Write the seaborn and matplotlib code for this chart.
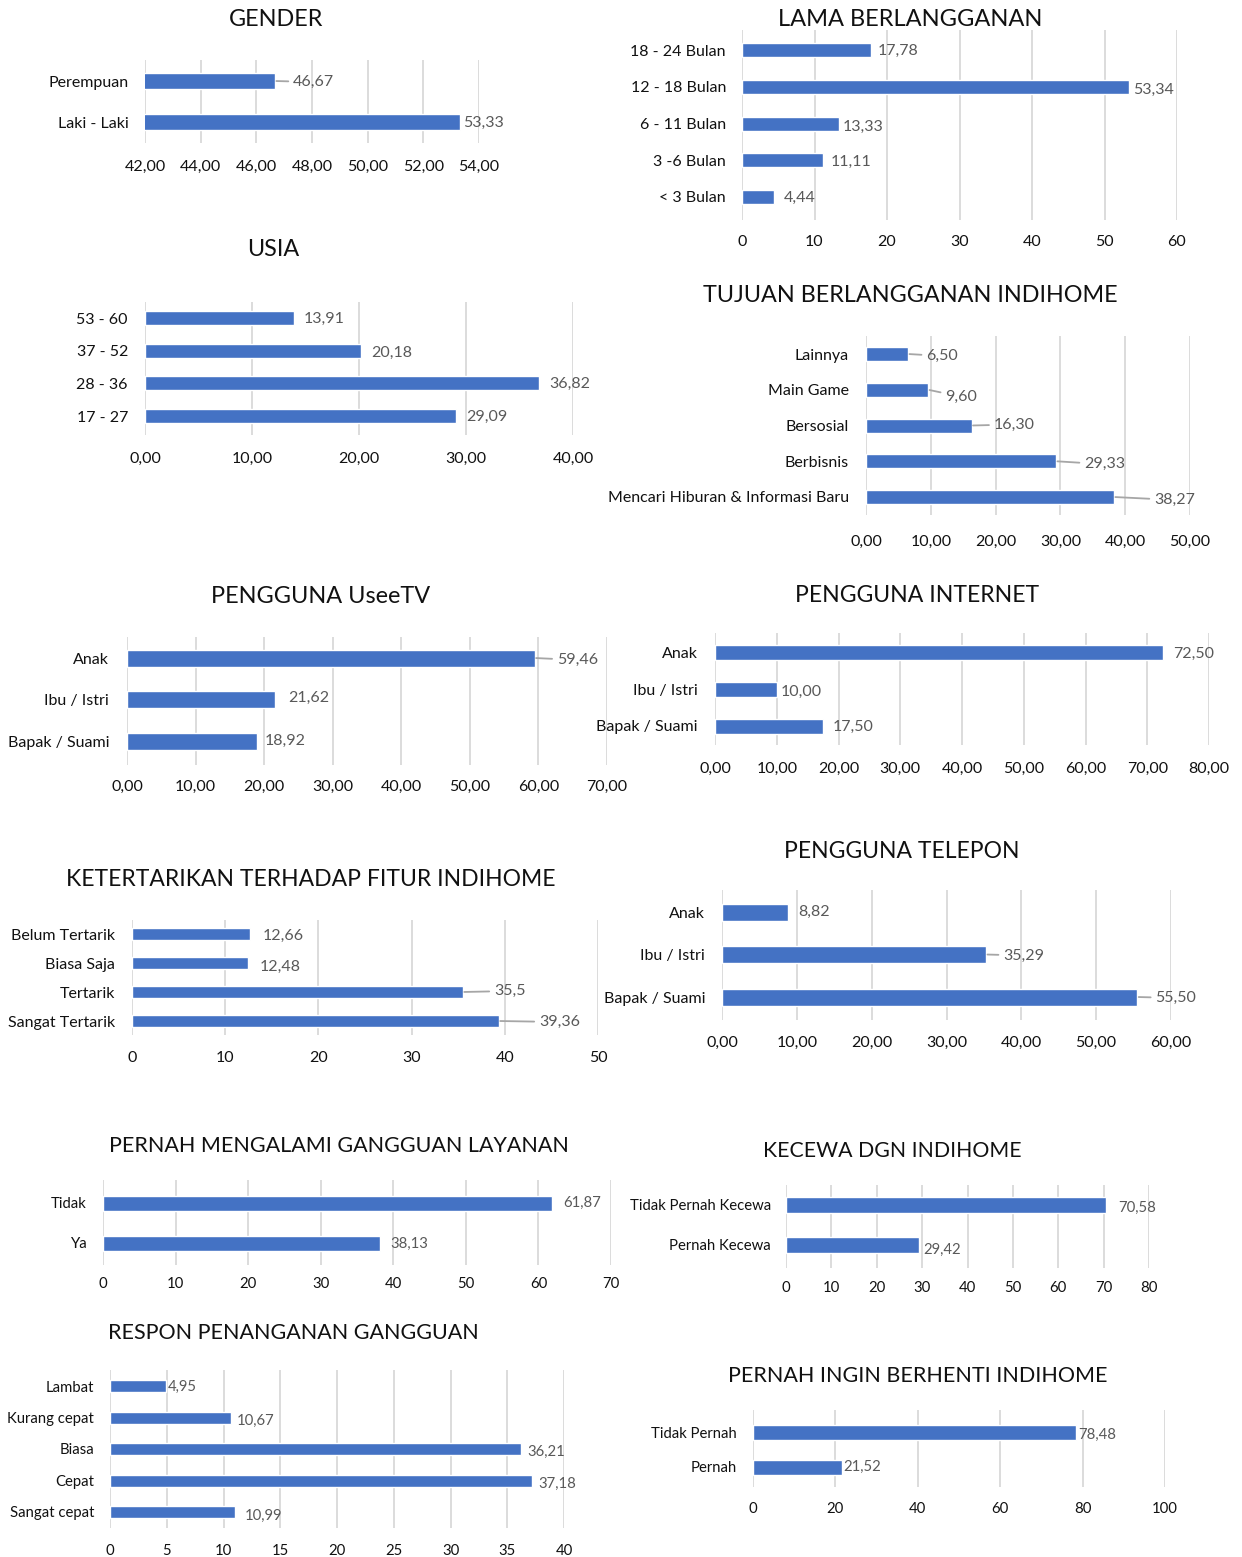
import matplotlib
matplotlib.use('Agg')
import matplotlib.pyplot as plt
import seaborn as sns
import pandas as pd

W, H = 1242, 1557
DPI = 100
sns.set_theme(style='white')
plt.rcParams['font.family'] = ['Lato', 'DejaVu Sans']

BAR = '#4472C4'
GRID = '#D9D9D9'
LBL = '#595959'
LEAD = '#A6A6A6'
TXT = '#111111'

# ---------------- data ----------------
gender_cat = ['Perempuan', 'Laki - Laki']
gender_val = [46.67, 53.33]
gender_ticks = [42, 44, 46, 48, 50, 52, 54]

lama_cat = ['18 - 24 Bulan', '12 - 18 Bulan', '6 - 11 Bulan', '3 -6 Bulan', '< 3 Bulan']
lama_val = [17.78, 53.34, 13.33, 11.11, 4.44]
lama_ticks = [0, 10, 20, 30, 40, 50, 60]

usia_cat = ['53 - 60', '37 - 52', '28 - 36', '17 - 27']
usia_val = [13.91, 20.18, 36.82, 29.09]
usia_ticks = [0, 10, 20, 30, 40]

tujuan_cat = ['Lainnya', 'Main Game', 'Bersosial', 'Berbisnis',
              'Mencari Hiburan & Informasi Baru']
tujuan_val = [6.50, 9.60, 16.30, 29.33, 38.27]
tujuan_ticks = [0, 10, 20, 30, 40, 50]

usee_cat = ['Anak', 'Ibu / Istri', 'Bapak / Suami']
usee_val = [59.46, 21.62, 18.92]
usee_ticks = [0, 10, 20, 30, 40, 50, 60, 70]

inet_cat = ['Anak', 'Ibu / Istri', 'Bapak / Suami']
inet_val = [72.50, 10.00, 17.50]
inet_ticks = [0, 10, 20, 30, 40, 50, 60, 70, 80]

fitur_cat = ['Belum Tertarik', 'Biasa Saja', 'Tertarik', 'Sangat Tertarik']
fitur_val = [12.66, 12.48, 35.5, 39.36]
fitur_lbl = ['12,66', '12,48', '35,5', '39,36']
fitur_ticks = [0, 10, 20, 30, 40, 50]

telp_cat = ['Anak', 'Ibu / Istri', 'Bapak / Suami']
telp_val = [8.82, 35.29, 55.50]
telp_ticks = [0, 10, 20, 30, 40, 50, 60]

ganggu_cat = ['Tidak', 'Ya']
ganggu_val = [61.87, 38.13]
ganggu_ticks = [0, 10, 20, 30, 40, 50, 60, 70]

kecewa_cat = ['Tidak Pernah Kecewa', 'Pernah Kecewa']
kecewa_val = [70.58, 29.42]
kecewa_ticks = [0, 10, 20, 30, 40, 50, 60, 70, 80]

respon_cat = ['Lambat', 'Kurang cepat', 'Biasa', 'Cepat', 'Sangat cepat']
respon_val = [4.95, 10.67, 36.21, 37.18, 10.99]
respon_ticks = [0, 5, 10, 15, 20, 25, 30, 35, 40]

berhenti_cat = ['Tidak Pernah', 'Pernah']
berhenti_val = [78.48, 21.52]
berhenti_ticks = [0, 20, 40, 60, 80, 100]

# ---------------- drawing ----------------
fig = plt.figure(figsize=(W / DPI, H / DPI), dpi=DPI)
fig.patch.set_facecolor('white')

PT = 0.72  # px -> pt at 100 dpi
TICK_FS = 11.5
CAT_FS = 11.5
VAL_FS = 11.5


def fmt(v, dec):
    return f"{v:.{dec}f}".replace('.', ',')


def panel(title, tx, ty, tfs, cats, vals, ticks, tick_dec,
          x0, x1, yt, yb, yc_first, yc_last, bar_px, ylab_right, xlab_y,
          offsets, labels=None, tscale=1.0):
    ax = fig.add_axes([x0 / W, 1 - yb / H, (x1 - x0) / W, (yb - yt) / H])
    n = len(cats)
    s = (yc_last - yc_first) / (n - 1)
    df = pd.DataFrame({'cat': cats, 'val': vals})
    sns.barplot(data=df, x='val', y='cat', orient='h', color=BAR,
                saturation=1, width=bar_px / s, ax=ax, zorder=3)
    ax.set_xlim(ticks[0], ticks[-1])
    ax.set_ylim(n - 1 + (yb - yc_last) / s, -(yc_first - yt) / s)
    ax.set_xticks(ticks)
    ax.set_xticklabels([fmt(t, tick_dec) for t in ticks])
    ax.grid(axis='x', color=GRID, lw=1.3, zorder=0)
    ax.grid(axis='y', visible=False)
    for sp in ax.spines.values():
        sp.set_visible(False)
    ax.set_xlabel('')
    ax.set_ylabel('')
    ax.tick_params(axis='x', length=0, labelsize=TICK_FS * tscale, colors=TXT,
                   pad=(xlab_y - yb - 6) * PT)
    ax.tick_params(axis='y', length=0, labelsize=CAT_FS * tscale, colors=TXT,
                   pad=(x0 - ylab_right) * PT)
    for lab in ax.get_xticklabels():
        lab.set_clip_on(False)
    for i, v in enumerate(vals):
        dx, dy, lead = offsets[i]
        txt = labels[i] if labels is not None else fmt(v, 2)
        kw = {}
        if lead:
            kw['arrowprops'] = dict(arrowstyle='-', color=LEAD, lw=1.3,
                                    shrinkA=1, shrinkB=1)
        ax.annotate(txt, xy=(v, i), xytext=(dx * PT, -(dy + 1) * PT),
                    textcoords='offset points', ha='left', va='center',
                    color=LBL, fontsize=VAL_FS * tscale,
                    annotation_clip=False, **kw)
    fig.text(tx / W, 1 - ty / H, title, ha='center', va='center',
             fontsize=tfs, color=TXT)
    return ax


panel('GENDER', 276, 20, 16.8, gender_cat, gender_val, gender_ticks, 2,
      145, 479, 60, 143, 81, 122, 16, 129, 166,
      [(18, 0, True), (3, 0, False)])

panel('LAMA BERLANGGANAN', 910, 20, 17.0, lama_cat, lama_val, lama_ticks, 0,
      742, 1177, 30, 220, 50, 197, 14, 726, 241,
      [(7, 0, False), (4, 2, False), (4, 2, False), (8, 1, False), (10, 0, False)])

panel('USIA', 273, 250, 16.8, usia_cat, usia_val, usia_ticks, 2,
      145, 573, 302, 435, 318, 416, 14, 128, 458,
      [(10, 0, False), (10, 1, False), (10, 0, False), (10, 0, False)])

panel('TUJUAN BERLANGGANAN INDIHOME', 910, 295, 16.8, tujuan_cat, tujuan_val,
      tujuan_ticks, 2,
      866, 1190, 336, 515, 354, 497, 14, 849, 541,
      [(18, 1, True), (17, 6, True), (22, -2, True), (28, 2, True), (40, 2, True)])

panel('PENGGUNA UseeTV', 321, 597, 16.9, usee_cat, usee_val, usee_ticks, 2,
      127, 607, 637, 765, 658, 741, 17, 109, 786,
      [(22, 1, True), (13, -3, False), (8, -1, False)])

panel('PENGGUNA INTERNET', 917, 595, 16.6, inet_cat, inet_val, inet_ticks, 2,
      715, 1209, 633, 745, 652, 726, 15, 698, 768,
      [(10, 1, False), (4, 2, False), (10, 0, False)])

panel('KETERTARIKAN TERHADAP FITUR INDIHOME', 311, 880, 16.5, fitur_cat,
      fitur_val, fitur_ticks, 0,
      132, 598, 920, 1035, 934, 1021, 12, 115, 1057,
      [(13, 1, False), (11, 3, False), (31, -2, True), (40, 0, True)],
      labels=fitur_lbl)

panel('PENGGUNA TELEPON', 902, 851, 16.5, telp_cat, telp_val, telp_ticks, 2,
      722, 1171, 890, 1020, 912, 997, 17, 705, 1042,
      [(10, -1, False), (17, 0, True), (18, 0, True)])

panel('PERNAH MENGALAMI GANGGUAN LAYANAN', 339, 1146, 15.5, ganggu_cat,
      ganggu_val, ganggu_ticks, 0,
      103, 611, 1180, 1265, 1203, 1243, 15, 87, 1283,
      [(11, -1, False), (11, 0, False)], tscale=0.93)

panel('KECEWA DGN INDIHOME', 892, 1151, 15.3, kecewa_cat, kecewa_val,
      kecewa_ticks, 0,
      786, 1149, 1185, 1268, 1205, 1245, 16, 771, 1287,
      [(12, 2, False), (4, 4, False)], tscale=0.93)

panel('RESPON PENANGANAN GANGGUAN', 293, 1333, 15.5, respon_cat, respon_val,
      respon_ticks, 0,
      110, 564, 1370, 1528, 1386, 1512, 12, 94, 1550,
      [(2, 0, False), (6, 2, False), (6, 2, False), (6, 2, False), (10, 3, False)],
      tscale=0.93)

panel('PERNAH INGIN BERHENTI INDIHOME', 918, 1376, 15.5, berhenti_cat,
      berhenti_val, berhenti_ticks, 0,
      753, 1165, 1410, 1487, 1432, 1467, 15, 737, 1508,
      [(2, 2, False), (2, -1, False)], tscale=0.93)

fig.savefig('out.png', dpi=DPI, facecolor='white')
